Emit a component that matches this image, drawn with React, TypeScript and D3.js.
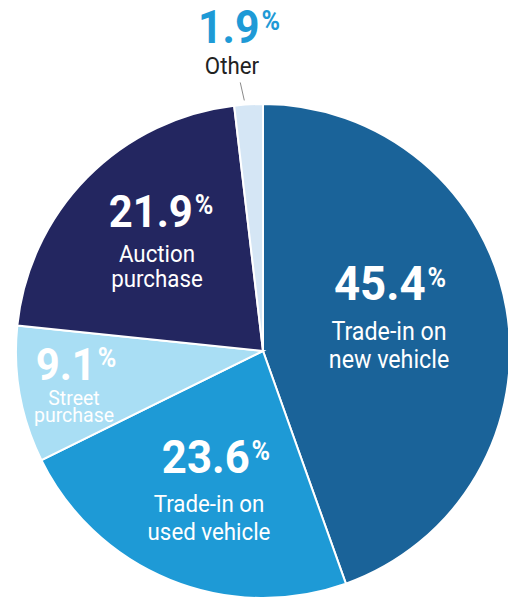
import React from 'react';
import * as d3 from 'd3';

const categories = ['Trade-in on new vehicle', 'Trade-in on used vehicle', 'Street purchase', 'Auction purchase', 'Other'];
const shares = [45.4, 23.6, 9.1, 21.9, 1.9];
const labelLines = [['Trade-in on', 'new vehicle'], ['Trade-in on', 'used vehicle'], ['Street', 'purchase'], ['Auction', 'purchase'], ['Other']];
const colors = ['#1a6399', '#1e9ad6', '#a9def4', '#232660', '#d5e6f5'];

// label placement relative to the pie centre (number baseline), font sizes, line offsets
const layout = [
  { dx: 127, dy: -51, num: 49, txt: 25, lines: [40, 68], lx: -1, numColor: '#fff', txtColor: '#fff' },
  { dx: -47, dy: 122, num: 47, txt: 24, lines: [39, 67], lx: -7, numColor: '#fff', txtColor: '#fff' },
  { dx: -187, dy: 29, num: 45, txt: 21, lines: [25, 42], lx: -2, numColor: '#fff', txtColor: '#fff' },
  { dx: -102, dy: -124, num: 45, txt: 24, lines: [35, 60], lx: -4, numColor: '#fff', txtColor: '#fff' },
  { dx: -24, dy: -308, num: 46, txt: 24, lines: [31], lx: -7, numColor: '#1e9ad6', txtColor: '#222' },
];

const W = 508;
const H = 599;
const cx = 263;
const cy = 351;
const R = 247;
const sx = 0.93;
const font = 'Roboto, "Liberation Sans", sans-serif';

const App = () => {
  const arcs = d3.pie<number>().sort(null).value(d => d)(shares);
  const arc = d3.arc<d3.PieArcDatum<number>>().innerRadius(0).outerRadius(R);
  const otherArc = arcs[4];
  const otherMid = (otherArc.startAngle + otherArc.endAngle) / 2;

  return (
    <svg width={W} height={H} style={{ position: 'absolute', left: 0, top: 0 }}>
      <g transform={`translate(${cx},${cy})`}>
        {arcs.map((a, i) => (
          <path key={categories[i]} d={arc(a) || ''} fill={colors[i]} stroke="#fff" strokeWidth={2} />
        ))}
        <line
          x1={Math.sin(otherMid) * (R + 22) - 7}
          y1={-Math.cos(otherMid) * (R + 22)}
          x2={Math.sin(otherMid) * (R + 4) - 4}
          y2={-Math.cos(otherMid) * (R + 4)}
          stroke="#8a8a8a"
          strokeWidth={1}
        />
        {arcs.map((a, i) => {
          const L = layout[i];
          return (
            <g key={'lbl' + i} transform={`translate(${L.dx},${L.dy}) scale(${sx},1)`} fontFamily={font}>
              <text textAnchor="middle" fontSize={L.num} fontWeight="bold" fill={L.numColor}>
                {d3.format('.1f')(a.data)}
                <tspan fontSize={27} dx={2} dy={-13}>%</tspan>
              </text>
              {labelLines[i].map((t, j) => (
                <text key={t} x={L.lx / sx} y={L.lines[j]} textAnchor="middle" fontSize={L.txt} fill={L.txtColor}>
                  {t}
                </text>
              ))}
            </g>
          );
        })}
      </g>
    </svg>
  );
};

export default App;
